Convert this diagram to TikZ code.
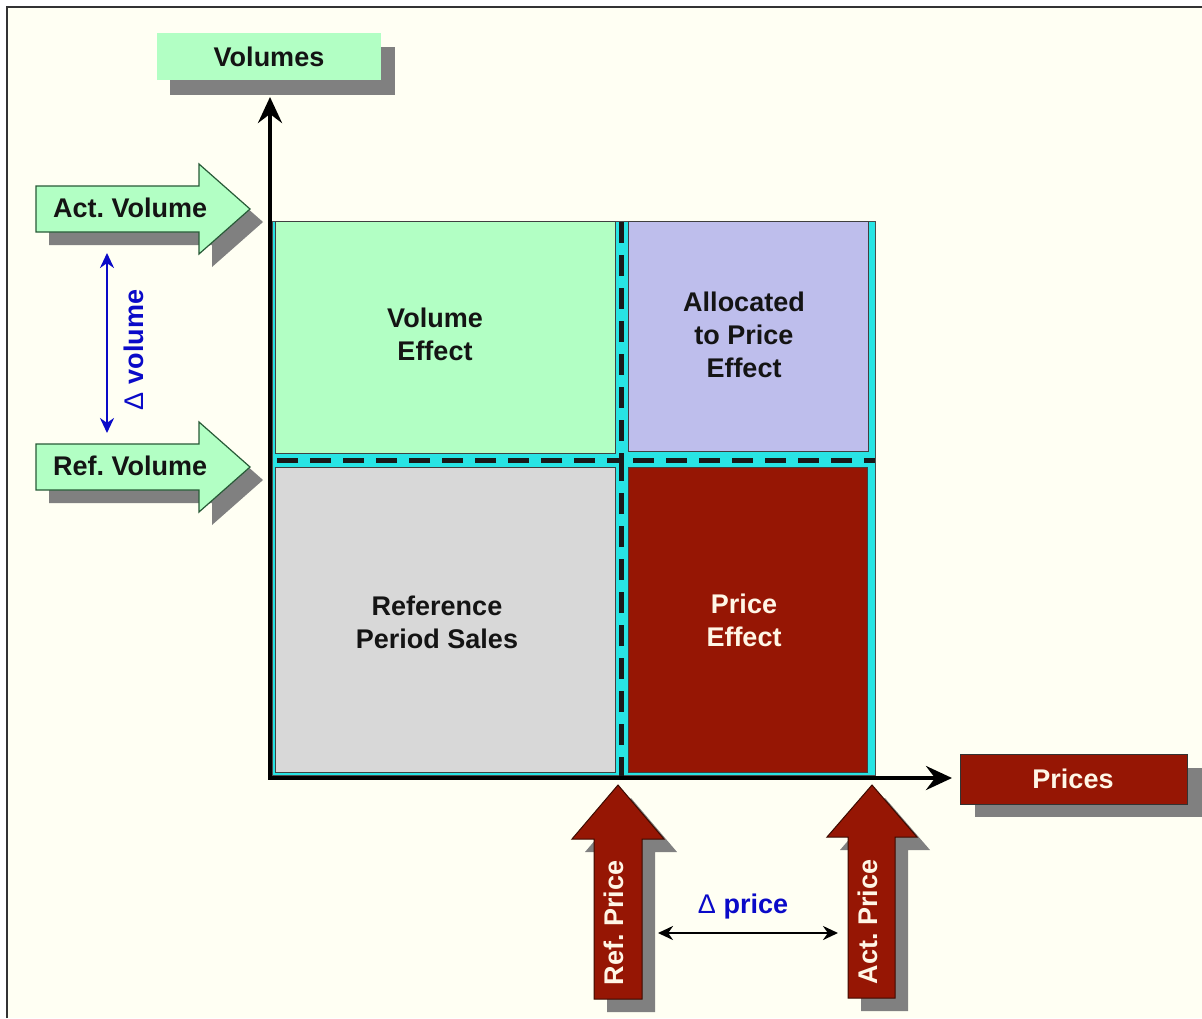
\documentclass[tikz,border=0pt]{standalone}
\usepackage{fontspec}
\setmainfont{Liberation Sans}
\usetikzlibrary{arrows.meta}
\frenchspacing

\definecolor{cream}{RGB}{255,255,243}
\definecolor{mint}{RGB}{178,255,196}
\definecolor{mintline}{RGB}{40,90,55}
\definecolor{lav}{RGB}{190,190,236}
\definecolor{lgray}{RGB}{216,216,216}
\definecolor{brick}{RGB}{150,22,4}
\definecolor{brickline}{RGB}{60,10,0}
\definecolor{aqua}{RGB}{40,228,228}
\definecolor{shade}{RGB}{128,128,128}
\definecolor{dblue}{RGB}{10,10,200}
\definecolor{paletext}{RGB}{255,246,230}

\begin{document}
\begin{tikzpicture}[x=1pt,y=-1pt,
  txt/.style={font=\fontsize{27}{33}\selectfont\bfseries, inner sep=0pt, align=center, text=black!92},
  lighttxt/.style={txt, text=paletext},
  bluetxt/.style={txt, text=dblue},
  shadowfill/.style={fill=shade, draw=none},
  greenarrow/.style={fill=mint, draw=mintline, line width=1.2pt, line join=miter},
  redarrow/.style={fill=brick, draw=brickline, line width=1pt, line join=miter},
  cell/.style={draw=black!75, line width=1pt},
  divider/.style={draw=black!90, line width=5pt, dash pattern=on 21pt off 12pt},
  axis/.style={line width=4pt, line join=miter,
    {Stealth[length=26pt,width=24pt,inset=9pt]}-{Stealth[length=26pt,width=24pt,inset=9pt]}},
  span/.style={line width=2.6pt,
    {Stealth[length=15pt,width=14pt]}-{Stealth[length=15pt,width=14pt]}},
]
\useasboundingbox (0,0) rectangle (1202,1018);

% page and frame
\fill[white] (0,0) rectangle (1202,1018);
\fill[cream] (7,7) rectangle (1202,1018);
\draw[line width=2pt, black!80] (7,1018) -- (7,7) -- (1202,7);

% axis caption: Volumes
\fill[shadowfill] (170,47) rectangle (395,95);
\fill[mint] (157,33) rectangle (381,80);
\node[txt, anchor=base] (volumes) at (269,66) {Volumes};

% volume markers
\fill[shadowfill, shift={(13,13)}] (36,186) -- (199,186) -- (199,164) -- (250,209) -- (199,254) -- (199,232) -- (36,232) -- cycle;
\draw[greenarrow] (36,186) -- (199,186) -- (199,164) -- (250,209) -- (199,254) -- (199,232) -- (36,232) -- cycle;
\node[txt, anchor=base west] (actvol) at (53,217) {Act. Volume};

\fill[shadowfill, shift={(13,13)}] (36,444) -- (199,444) -- (199,422) -- (250,467) -- (199,512) -- (199,490) -- (36,490) -- cycle;
\draw[greenarrow] (36,444) -- (199,444) -- (199,422) -- (250,467) -- (199,512) -- (199,490) -- (36,490) -- cycle;
\node[txt, anchor=base west] (refvol) at (53,475) {Ref. Volume};

% actual sales area behind the four cells
\draw[fill=aqua, draw=black!70, line width=1pt] (272,221) rectangle (875,775);

% four cells
\draw[cell, fill=mint]  (275,221) rectangle (615,453);
\draw[cell, fill=lav]   (628,221) rectangle (868,451);
\draw[cell, fill=lgray] (275,467) rectangle (615,772);
\draw[cell, fill=brick] (628,467) rectangle (867,772);

\node[txt] (veff) at (435,334) {Volume\\Effect};
\node[txt] (alloc) at (744,335) {Allocated\\to Price\\Effect};
\node[txt] (refsales) at (437,622) {Reference\\Period Sales};
\node[lighttxt] (peff) at (744,620) {Price\\Effect};

% dividing lines between reference and actual values
\draw[divider] (621,222) -- (621,460) -- (275,460);
\draw[divider] (621,778) -- (621,460) -- (875,460);

% axes
\coordinate (origin) at (270,778);
\coordinate (ytip) at (270,97);
\coordinate (xtip) at (952,778);
\draw[axis] (ytip) -- (origin) -- (xtip);

% price markers
\fill[shadowfill, shift={(13,13)}] (594,999) -- (594,839) -- (572,839) -- (618,785) -- (664,839) -- (642,839) -- (642,999) -- cycle;
\draw[redarrow] (594,999) -- (594,839) -- (572,839) -- (618,785) -- (664,839) -- (642,839) -- (642,999) -- cycle;
\node[lighttxt, rotate=90] (refprice) at (614,923) {Ref. Price};

\fill[shadowfill, shift={(13,13)}] (848,998) -- (848,837) -- (827,837) -- (872,785) -- (917,837) -- (895,837) -- (895,998) -- cycle;
\draw[redarrow] (848,998) -- (848,837) -- (827,837) -- (872,785) -- (917,837) -- (895,837) -- (895,998) -- cycle;
\node[lighttxt, rotate=90] (actprice) at (868,922) {Act. Price};

% differences
\coordinate (dvtop) at (107,253);
\coordinate (dvbot) at (107,433);
\draw[span, dblue] (dvtop) -- (dvbot);
\node[bluetxt, rotate=90] (dvol) at (134,350) {{\mdseries Δ} volume};

\coordinate (dpleft) at (658,933);
\coordinate (dpright) at (838,933);
\draw[span, black] (dpleft) -- (dpright);
\node[bluetxt] (dprice) at (743,907) {{\mdseries Δ} price};

% axis caption: Prices
\fill[shadowfill] (975,768) rectangle (1202,817);
\draw[fill=brick, draw=black!80, line width=1pt] (960,754) rectangle (1187,804);
\node[lighttxt, anchor=base] (prices) at (1073,788) {Prices};
\end{tikzpicture}
\end{document}
